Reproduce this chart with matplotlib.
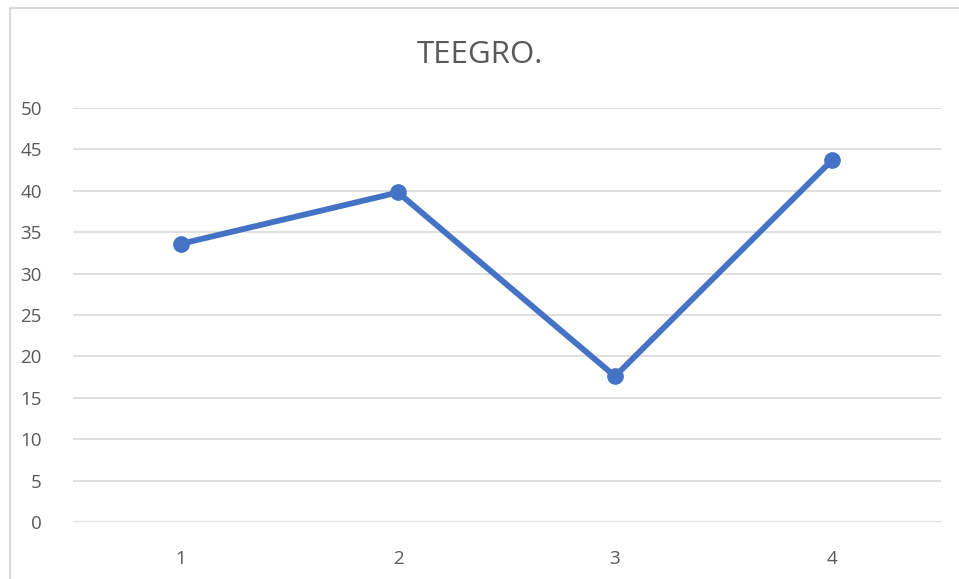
import matplotlib
matplotlib.use("Agg")
import matplotlib.pyplot as plt
from matplotlib.patches import Rectangle

categories = ["1", "2", "3", "4"]
values = [33.6, 39.8, 17.6, 43.7]
yticks = [0, 5, 10, 15, 20, 25, 30, 35, 40, 45, 50]
title = "TEEGRO."

plt.rcParams["font.family"] = ["Open Sans", "DejaVu Sans"]

W, H = 959, 579
fig = plt.figure(figsize=(W / 100, H / 100), dpi=100)
ax = fig.add_axes([72.5 / W, 57 / H, 868 / W, 414 / H])

# chart area border (runs off the right and bottom edge)
fig.patches.append(Rectangle((10 / W, -0.1), 1.2, (H - 8) / H + 0.1,
                             transform=fig.transFigure, fill=False,
                             edgecolor="#D9D9D9", linewidth=1.5))

x = list(range(len(categories)))
ax.plot(x, values, color="#4472C4", linewidth=4.2, marker="o",
        markersize=11, solid_capstyle="round", zorder=3)

ax.set_xlim(-0.5, len(categories) - 0.5)
ax.set_ylim(0, 50)
ax.set_yticks(yticks)
ax.set_xticks(x)
ax.set_xticklabels(categories)

ax.grid(axis="y", color="#D9D9D9", linewidth=1.2)
ax.set_axisbelow(True)
for s in ax.spines.values():
    s.set_visible(False)
ax.tick_params(length=0, labelsize=13.5, labelcolor="#595959")
ax.tick_params(axis="y", pad=22)
ax.tick_params(axis="x", pad=20)

fig.text(0.5, 1 - 55 / H, title, ha="center", va="center",
         fontsize=22.5, color="#595959")

fig.savefig("out.png", dpi=100)
